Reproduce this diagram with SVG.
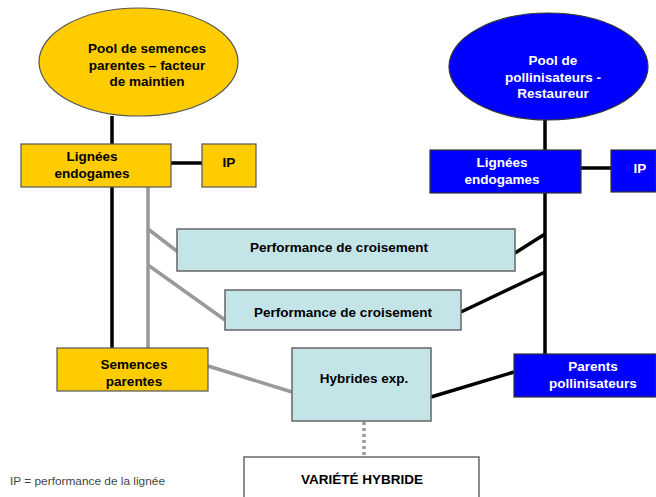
<svg xmlns="http://www.w3.org/2000/svg" width="656" height="497" viewBox="0 0 656 497">
<style>
text{font-family:"Liberation Sans",Arial,sans-serif;font-weight:bold;font-size:13.5px;text-anchor:middle}
.y{fill:#FFCC00;stroke:#555;stroke-width:1.2}
.b{fill:#0000FF;stroke:#333;stroke-width:1.2}
.c{fill:#C4E5E8;stroke:#666;stroke-width:1.5}
.w{fill:#fff;stroke:#666;stroke-width:1.5}
.k{fill:#000}
.wt{fill:#fff}
.lk{stroke:#000;stroke-width:3.5;fill:none}
.lg{stroke:#999;stroke-width:3.5;fill:none}
.ld{stroke:#999;stroke-width:3.5;fill:none;stroke-dasharray:3 3}
.note{font-weight:normal;font-size:10px;text-anchor:start;fill:#444}
</style>
<g id="connectors">
<line class="lk" x1="112" y1="116" x2="112" y2="144"/>
<line class="lk" x1="171" y1="163" x2="202" y2="163"/>
<line class="lk" x1="112" y1="187" x2="112" y2="348"/>
<polyline class="lg" points="148,187 148,348"/>
<line class="lg" x1="148" y1="229" x2="178" y2="252"/>
<line class="lg" x1="148" y1="265" x2="225" y2="320"/>
<line class="lg" x1="208" y1="366" x2="292" y2="392"/>
<line class="lk" x1="545" y1="120" x2="545" y2="150"/>
<line class="lk" x1="581" y1="168" x2="611" y2="168"/>
<line class="lk" x1="545" y1="193" x2="545" y2="355"/>
<line class="lk" x1="545" y1="234" x2="515" y2="253"/>
<line class="lk" x1="545" y1="272" x2="461" y2="312"/>
<line class="lk" x1="431" y1="397" x2="514" y2="372"/>
<line class="ld" x1="364" y1="422" x2="364" y2="457"/>
</g>
<g id="pool-semences">
<ellipse class="y" cx="138.5" cy="62" rx="99.5" ry="54"/>
<text class="k" x="147" y="53">Pool de semences</text>
<text class="k" x="147" y="70">parentes – facteur</text>
<text class="k" x="147" y="86">de maintien</text>
</g>
<g id="lignees-gauche">
<rect class="y" x="21" y="144" width="150" height="43"/>
<text class="k" x="92" y="161">Lignées</text>
<text class="k" x="92" y="178">endogames</text>
</g>
<g id="ip-gauche">
<rect class="y" x="202" y="144" width="54" height="43"/>
<text class="k" x="229" y="167">IP</text>
</g>
<g id="pool-pollinisateurs">
<ellipse class="b" cx="548.5" cy="66.5" rx="99.5" ry="53.5"/>
<text class="wt" x="553" y="65">Pool de</text>
<text class="wt" x="553" y="82">pollinisateurs -</text>
<text class="wt" x="553" y="98">Restaureur</text>
</g>
<g id="lignees-droite">
<rect class="b" x="430" y="150" width="151" height="43"/>
<text class="wt" x="502" y="167">Lignées</text>
<text class="wt" x="502" y="184">endogames</text>
</g>
<g id="ip-droite">
<rect class="b" x="611" y="150" width="45" height="42"/>
<text class="wt" x="640" y="173">IP</text>
</g>
<g id="perf-1">
<rect class="c" x="177" y="229" width="338" height="42"/>
<text class="k" x="339" y="252">Performance de croisement</text>
</g>
<g id="perf-2">
<rect class="c" x="225" y="290" width="236" height="40"/>
<text class="k" x="343" y="317">Performance de croisement</text>
</g>
<g id="semences-parentes">
<rect class="y" x="57" y="348" width="151" height="43"/>
<text class="k" x="134" y="369">Semences</text>
<text class="k" x="134" y="386">parentes</text>
</g>
<g id="hybrides">
<rect class="c" x="292" y="348" width="139" height="73"/>
<text class="k" x="364" y="383">Hybrides exp.</text>
</g>
<g id="parents-pollinisateurs">
<rect class="b" x="514" y="354" width="142" height="43"/>
<text class="wt" x="593" y="371">Parents</text>
<text class="wt" x="593" y="388">pollinisateurs</text>
</g>
<g id="variete">
<rect class="w" x="244" y="457" width="235" height="45"/>
<text class="k" x="362" y="484">VARIÉTÉ HYBRIDE</text>
</g>
<text class="note" x="10" y="485" textLength="155" lengthAdjust="spacingAndGlyphs">IP = performance de la lignée</text>
</svg>
